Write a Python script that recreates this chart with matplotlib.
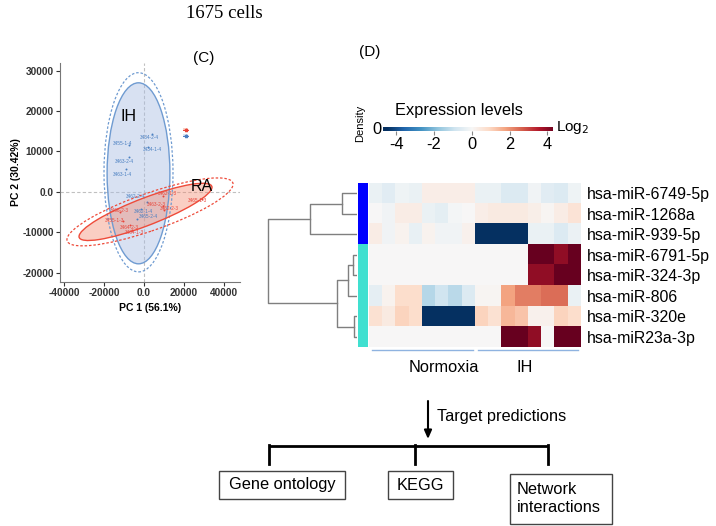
import numpy as np
import matplotlib
matplotlib.use('Agg')
import matplotlib.pyplot as plt
from matplotlib.patches import Ellipse, Rectangle, Patch
from matplotlib.lines import Line2D
from matplotlib.colors import ListedColormap

plt.rcParams['font.family'] = ['Liberation Sans', 'DejaVu Sans']

# ---- PCA data (panel C) ----
ih_labels = ['3455-1-4', '3434-2-4', '3434-1-4', '3463-2-4', '3463-1-4', '3462-2-4', '3462-1-4', '3465-2-4']
ih_x = [-7500, 4200, 1800, -7500, -9000, 1300, -1500, -3700]
ih_y = [11600, 14300, 11200, 8600, 5600, -2400, -4300, -6800]
ra_labels = ['3462-1-3', '3463-2-3', '3462-2-3', '3465-1-3', '3466-2-3', '3455-1-3', '3464-2-3', '3464-1-3']
ra_x = [9700, 9700, 10000, 28800, -12000, -10300, -7000, -6200]
ra_y = [-1000, -3500, -4400, -1800, -4900, -7300, -8200, -9400]
# ellipses: centre x, centre y, width, height, angle
ih_ell = (-2750, 4600, 31400, 44800, 0)
ih_ell_outer = (-2750, 4850, 34500, 49300, 0)
ra_ell = (750, -4950, 67600, 7100, 10.5)
ra_ell_outer = (3000, -4950, 84200, 9600, 9.5)

# label nudges (pixels) for the sample names, like a repel layout
ih_nudge = [(-6, 2), (-3, -3), (5, -3), (-5, -4), (-4, -5), (-11, 5), (2, -2), (12, 3)]
ra_nudge = [(4, 2), (-7, 2), (5, 1), (-4, -1), (-1, 1), (-9, 1), (-1, -2), (3, -3)]

# ---- heatmap data (panel D) ----
mirnas = ['hsa-miR-6749-5p', 'hsa-miR-1268a', 'hsa-miR-939-5p', 'hsa-miR-6791-5p',
          'hsa-miR-324-3p', 'hsa-miR-806', 'hsa-miR-320e', 'hsa-miR23a-3p']
groups = ['Normoxia'] * 8 + ['IH'] * 8
expr = np.array([
    [-0.3, -0.5, -0.2, -0.3, 0.3, 0.3, 0.3, 0.3, -0.3, -0.3, -0.6, -0.6, -0.15, -0.5, -0.6, -0.2],
    [0.0, -0.15, 0.35, 0.35, -0.3, -0.45, -0.1, 0.0, 0.3, 0.4, 0.4, 0.4, 0.25, 0.1, 0.35, 0.6],
    [0.35, -0.15, 0.15, -0.35, 0.15, -0.15, -0.15, 0.2, -4.5, -4.5, -4.5, -4.5, -0.3, -0.3, -0.6, -0.25],
    [0, 0, 0, 0, 0, 0, 0, 0, 0, 0, 0, 0, 4.5, 4.5, 4.0, 4.5],
    [0, 0, 0, 0, 0, 0, 0, 0, 0, 0, 0, 0, 4.0, 4.0, 4.5, 4.5],
    [-0.4, 0.15, 0.8, 0.8, -1.3, -0.9, -1.2, -0.6, 0.1, 0.1, 1.8, 2.3, 2.3, 2.5, 2.5, -0.3],
    [0.7, 0.4, 1.0, 0.8, -4.5, -4.5, -4.5, -4.5, 1.0, 0.7, 1.5, 1.3, 0.2, 0.2, 1.0, 0.8],
    [0, 0, 0, 0, 0, 0, 0, 0, 0, 0, 4.5, 4.5, 4.0, 0, 4.5, 4.5],
])
row_cluster = [0, 0, 0, 1, 1, 1, 1, 1]
cluster_colors = ['#0000ff', '#40e0d0']
# linkage: (node a, node b, height)
merges = [(0, 1, 15), (8, 2, 47), (3, 4, 4), (10, 5, 9), (6, 7, 3), (11, 12, 20), (9, 13, 89)]

W, H = 716, 526
fig = plt.figure(figsize=(7.16, 5.26), dpi=100)


def rect(x0, y0, x1, y1):
    return [x0 / W, 1 - y1 / H, (x1 - x0) / W, (y1 - y0) / H]


ax0 = fig.add_axes([0, 0, 1, 1])
ax0.set_xlim(0, W)
ax0.set_ylim(H, 0)
ax0.axis('off')
ax0.set_zorder(10)

# ---------------- panel C ----------------
ax = fig.add_axes(rect(60, 63, 240, 282))
ax.set_xlim(-42000, 48000)
ax.set_ylim(-22300, 31900)
ax.axhline(0, color='#c0c0c0', lw=0.8, ls=(0, (3, 2)), zorder=0)
ax.axvline(0, color='#c0c0c0', lw=0.8, ls=(0, (3, 2)), zorder=0)

blue_edge, red_edge = '#6f9bd1', '#ee4b3a'
cx, cy, w, h, a = ih_ell
ax.add_patch(Ellipse((cx, cy), w, h, angle=a, fc='#a9bde3', alpha=0.45, ec='none', zorder=1))
ax.add_patch(Ellipse((cx, cy), w, h, angle=a, fill=False, ec=blue_edge, lw=1, zorder=2))
cx, cy, w, h, a = ih_ell_outer
ax.add_patch(Ellipse((cx, cy), w, h, angle=a, fill=False, ec=blue_edge, lw=0.9, ls=(0, (2, 1.5)), zorder=2))
cx, cy, w, h, a = ra_ell
ax.add_patch(Ellipse((cx, cy), w, h, angle=a, fc='#f4866a', alpha=0.4, ec='none', zorder=1))
ax.add_patch(Ellipse((cx, cy), w, h, angle=a, fill=False, ec=red_edge, lw=1, zorder=2))
cx, cy, w, h, a = ra_ell_outer
ax.add_patch(Ellipse((cx, cy), w, h, angle=a, fill=False, ec=red_edge, lw=0.9, ls=(0, (2, 1.5)), zorder=2))

ax.scatter(ih_x, ih_y, s=2, color='#4a7fc1', zorder=3, lw=0)
ax.scatter(ra_x, ra_y, s=2, color='#e8453a', zorder=3, lw=0)
for lab, x, y, d in zip(ih_labels, ih_x, ih_y, ih_nudge):
    ax.annotate(lab, (x, y), xytext=d, textcoords='offset pixels', fontsize=3.4,
                color='#4a7fc1', ha='center', va='center', zorder=4)
for lab, x, y, d in zip(ra_labels, ra_x, ra_y, ra_nudge):
    ax.annotate(lab, (x, y), xytext=d, textcoords='offset pixels', fontsize=3.4,
                color='#e8453a', ha='center', va='center', zorder=4)

ax.text(-7500, 18600, 'IH', fontsize=11.5, ha='center', va='center')
ax.text(29000, 1400, 'RA', fontsize=11.5, ha='center', va='center')

leg = ax.legend(handles=[(Patch(fc='#fbd0c4'), Line2D([], [], color='#e8453a', marker='*', ms=2.5, lw=0.7)),
                         (Patch(fc='#dbe3f1'), Line2D([], [], color='#4a7fc1', marker='*', ms=2.5, lw=0.7))],
                labels=['', ''], loc='center', bbox_to_anchor=(0.71, 0.68), frameon=False,
                handlelength=1.0, handleheight=0.6, fontsize=4, labelspacing=0.2, borderpad=0)

for s in ['top', 'right']:
    ax.spines[s].set_visible(False)
for s in ['left', 'bottom']:
    ax.spines[s].set_color('#777777')
ax.set_xticks([-40000, -20000, 0, 20000, 40000])
ax.set_xticklabels(['-40000', '-20000', '0.0', '20000', '40000'])
ax.set_yticks([-20000, -10000, 0, 10000, 20000, 30000])
ax.set_yticklabels(['-20000', '-10000', '0.0', '10000', '20000', '30000'])
ax.tick_params(labelsize=7.3, colors='#333333', length=3, width=0.8, pad=1.5)
for t in ax.get_xticklabels() + ax.get_yticklabels():
    t.set_fontweight('bold')
ax.set_xlabel('PC 1 (56.1%)', fontsize=7.5, fontweight='bold', labelpad=3.5)
ax.set_ylabel('PC 2 (30.42%)', fontsize=7.5, fontweight='bold', labelpad=1)

# ---------------- panel D ----------------
axh = fig.add_axes(rect(369, 183, 580, 347))
nrow, ncol = expr.shape
axh.imshow(expr, cmap='RdBu_r', vmin=-4.5, vmax=4.5, aspect='auto', interpolation='nearest')
axh.set_xticks([])
axh.yaxis.tick_right()
axh.set_yticks(range(nrow))
axh.set_yticklabels(mirnas, fontsize=11.4)
axh.tick_params(axis='y', length=0, pad=5)
for s in axh.spines.values():
    s.set_visible(False)

# group underline
names = list(dict.fromkeys(groups))
for g in names:
    idx = [i for i, v in enumerate(groups) if v == g]
    axh.plot([min(idx) - 0.25, max(idx) + 0.35], [nrow - 0.35, nrow - 0.35], color='#8fb3e0', lw=1,
             clip_on=False, scalex=False, scaley=False)
axh.set_xlim(-0.5, ncol - 0.5)
axh.set_ylim(nrow - 0.5, -0.5)
ax0.text(444, 368, 'Normoxia', fontsize=11.8, ha='center', va='center')
ax0.text(525, 368, 'IH', fontsize=11.8, ha='center', va='center')

# row colour strip
axs = fig.add_axes(rect(357.5, 183, 367.5, 347))
axs.imshow(np.array(row_cluster)[:, None], cmap=ListedColormap(cluster_colors), aspect='auto',
           interpolation='nearest')
axs.axis('off')

# dendrogram
axd = fig.add_axes(rect(262, 183, 357, 347))
pos = {i: (0.0, i + 0.5) for i in range(nrow)}
for k, (na, nb, hgt) in enumerate(merges):
    xa, ya = pos[na]
    xb, yb = pos[nb]
    axd.plot([xa, hgt, hgt, xb], [ya, ya, yb, yb], color='#7f7f7f', lw=1)
    pos[nrow + k] = (hgt, (ya + yb) / 2)
axd.set_xlim(95, 0)
axd.set_ylim(nrow, 0)
axd.axis('off')

# colour key
axk = fig.add_axes(rect(383, 127.5, 553, 131))
grad = np.linspace(-4.7, 4.3, 256)[None, :]
axk.imshow(grad, cmap='RdBu_r', vmin=-4.5, vmax=4.5, aspect='auto', extent=(-4.7, 4.3, 0, 1))
axk.set_yticks([])
axk.set_xticks([-4, -2, 0, 2, 4])
axk.set_xticklabels(['-4', '-2', '0', '2', '4'], fontsize=11.8)
axk.tick_params(axis='x', length=3, color='#888888', pad=1)
for s in axk.spines.values():
    s.set_visible(False)
ax0.text(459, 111, 'Expression levels', fontsize=11.8, ha='center', va='center')
ax0.text(360, 123, 'Density', fontsize=8, rotation=90, ha='center', va='center')
ax0.text(377, 129, '0', fontsize=11.8, ha='center', va='center')
ax0.text(556, 127, r'Log$_2$', fontsize=11, ha='left', va='center')

# panel titles
ax0.text(186, 13, '1675 cells', fontsize=13.5, family='Liberation Serif', ha='left', va='center')
ax0.text(204, 58, '(C)', fontsize=11, ha='center', va='center')
ax0.text(370, 52, '(D)', fontsize=11, ha='center', va='center')

# flow chart
ax0.annotate('', xy=(428, 439), xytext=(428, 401),
             arrowprops=dict(arrowstyle='-|>,head_length=0.5,head_width=0.22', color='black', lw=1.5,
                             shrinkA=0, shrinkB=0))
ax0.text(437, 417, 'Target predictions', fontsize=11.8, ha='left', va='center')
ax0.plot([269, 548], [446, 446], color='black', lw=2, solid_capstyle='butt')
for xv in [269, 415, 548]:
    ax0.plot([xv, xv], [445, 464], color='black', lw=2)
ax0.add_patch(Rectangle((219, 471), 126, 28, fill=False, ec='#444444', lw=1))
ax0.text(282, 485, 'Gene ontology', fontsize=11.8, ha='center', va='center')
ax0.add_patch(Rectangle((388, 471), 65, 28, fill=False, ec='#444444', lw=1))
ax0.text(420.5, 485, 'KEGG', fontsize=11.8, ha='center', va='center')
ax0.add_patch(Rectangle((510, 474), 102, 50, fill=False, ec='#444444', lw=1))
ax0.text(517, 498, 'Network\ninteractions', fontsize=11.8, ha='left', va='center', linespacing=1.25)

fig.savefig('out.png', dpi=100)
